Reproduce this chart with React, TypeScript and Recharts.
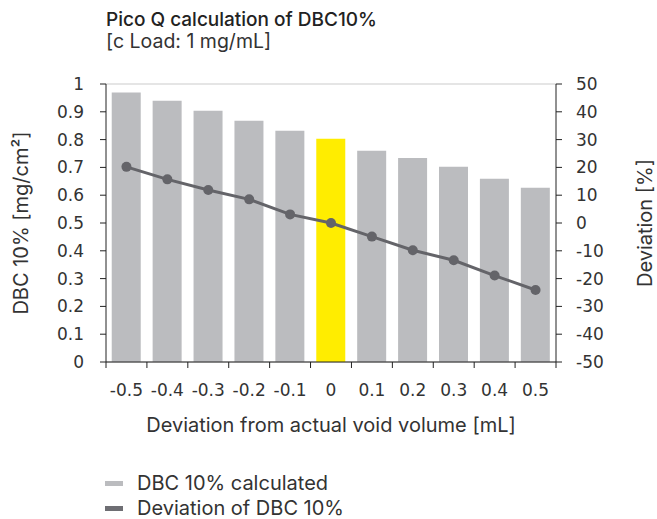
import React from 'react';
import { ComposedChart, Bar, Line, XAxis, YAxis, CartesianGrid, Cell, Label } from 'recharts';

const categories = ['-0.5', '-0.4', '-0.3', '-0.2', '-0.1', '0', '0.1', '0.2', '0.3', '0.4', '0.5'];
const dbcValues = [0.969, 0.94, 0.904, 0.868, 0.832, 0.803, 0.76, 0.734, 0.702, 0.659, 0.627];
const deviationValues = [20.2, 15.7, 11.9, 8.5, 3.1, 0, -4.9, -9.8, -13.4, -18.9, -24.1];
const leftTicks = [0, 0.1, 0.2, 0.3, 0.4, 0.5, 0.6, 0.7, 0.8, 0.9, 1];
const rightTicks = [-50, -40, -30, -20, -10, 0, 10, 20, 30, 40, 50];
const highlightCategory = '0';
const seriesNames = ['DBC 10% calculated', 'Deviation of DBC 10%'];
const titleText = 'Pico Q calculation of DBC10%';
const subtitleText = '[c Load: 1 mg/mL]';
const xAxisTitle = 'Deviation from actual void volume [mL]';
const leftAxisTitle = 'DBC 10% [mg/cm²]';
const rightAxisTitle = 'Deviation [%]';

const data = categories.map((c, i) => ({ x: c, dbc: dbcValues[i], dev: deviationValues[i] }));

const TICKFONT = '"DejaVu Sans", sans-serif';
const FONT = 'Inter, sans-serif';
const TFS = 17;
const LFS = 20;
const TEXT = '#333333';
const BAR = '#bbbcbf';
const YELLOW = '#ffed00';
const LINE = '#646469';

const XTick = (props: any) => {
  const { x, y, payload, index } = props;
  const off = payload && typeof payload.offset === 'number' ? payload.offset : 20.45;
  const axisY = y - 6;
  return (
    <g>
      <line x1={x - off} x2={x - off} y1={axisY} y2={axisY + 6} stroke="#222" strokeWidth={1} />
      {index === categories.length - 1 && (
        <line x1={x + off} x2={x + off} y1={axisY} y2={axisY + 6} stroke="#222" strokeWidth={1} />
      )}
      <text x={x} y={axisY + 34} textAnchor="middle" fontFamily={TICKFONT} fontSize={TFS} fill={TEXT}>
        {payload.value}
      </text>
    </g>
  );
};

export default function App() {
  return (
    <div style={{ position: 'absolute', left: 0, top: 0, width: 657, height: 519, background: '#fff', fontFamily: FONT, color: TEXT }}>
      <div style={{ position: 'absolute', left: 106, top: 10, fontSize: 19, lineHeight: '20px', fontWeight: 500, whiteSpace: 'nowrap', color: '#222' }}>
        {titleText}
      </div>
      <div style={{ position: 'absolute', left: 106, top: 31, fontSize: 19.5, lineHeight: '20px', whiteSpace: 'nowrap' }}>
        {subtitleText}
      </div>
      <div style={{ position: 'absolute', left: 0, top: 0 }}>
        <ComposedChart
          width={657}
          height={440}
          data={data}
          margin={{ top: 84, right: 0, bottom: 0, left: 0 }}
          barCategoryGap="14%"
        >
          <CartesianGrid horizontal vertical={false} stroke="#dcdcdc" strokeWidth={1.5} />
          <XAxis
            dataKey="x"
            height={78}
            tickLine={false}
            axisLine={{ stroke: '#222' }}
            tickSize={6}
            tickMargin={0}
            interval={0}
            tick={<XTick />}
          >
            <Label value={xAxisTitle} position="insideBottom" offset={8} style={{ fontFamily: FONT, fontSize: LFS, fill: TEXT }} />
          </XAxis>
          <YAxis
            yAxisId="left"
            width={106}
            domain={[0, 1]}
            ticks={leftTicks}
            interval={0}
            axisLine={{ stroke: '#222' }}
            tickLine={{ stroke: '#222' }}
            tickSize={6}
            tickMargin={16}
            tick={{ fontFamily: TICKFONT, fontSize: TFS, fill: TEXT }}
          >
            <Label value={leftAxisTitle} angle={-90} position="insideLeft" offset={21} style={{ textAnchor: 'middle', fontFamily: FONT, fontSize: LFS, fill: TEXT }} />
          </YAxis>
          <YAxis
            yAxisId="right"
            orientation="right"
            width={101}
            domain={[-50, 50]}
            ticks={rightTicks}
            interval={0}
            axisLine={{ stroke: '#222' }}
            tickLine={{ stroke: '#222' }}
            tickSize={6}
            tickMargin={14}
            tick={{ fontFamily: TICKFONT, fontSize: TFS, fill: TEXT, textAnchor: 'start' }}
          >
            <Label value={rightAxisTitle} angle={-90} position="insideRight" offset={12} style={{ textAnchor: 'middle', fontFamily: FONT, fontSize: LFS, fill: TEXT }} />
          </YAxis>
          <Bar yAxisId="left" dataKey="dbc" name={seriesNames[0]} fill={BAR} isAnimationActive={false}>
            {data.map((d) => (
              <Cell key={d.x} fill={d.x === highlightCategory ? YELLOW : BAR} />
            ))}
          </Bar>
          <Line
            yAxisId="right"
            dataKey="dev"
            name={seriesNames[1]}
            stroke={LINE}
            strokeWidth={3}
            dot={{ r: 5, fill: LINE, stroke: LINE, strokeWidth: 0 }}
            isAnimationActive={false}
          />
        </ComposedChart>
      </div>
      {seriesNames.map((n, i) => (
        <div key={n} style={{ position: 'absolute', left: 105, top: i === 0 ? 472 : 497, height: 22, display: 'flex', alignItems: 'center', fontSize: LFS, whiteSpace: 'nowrap' }}>
          <span style={{ display: 'inline-block', width: 18, height: 5, background: i === 0 ? BAR : '#6e6e73', marginRight: 14 }} />
          {n}
        </div>
      ))}
    </div>
  );
}
